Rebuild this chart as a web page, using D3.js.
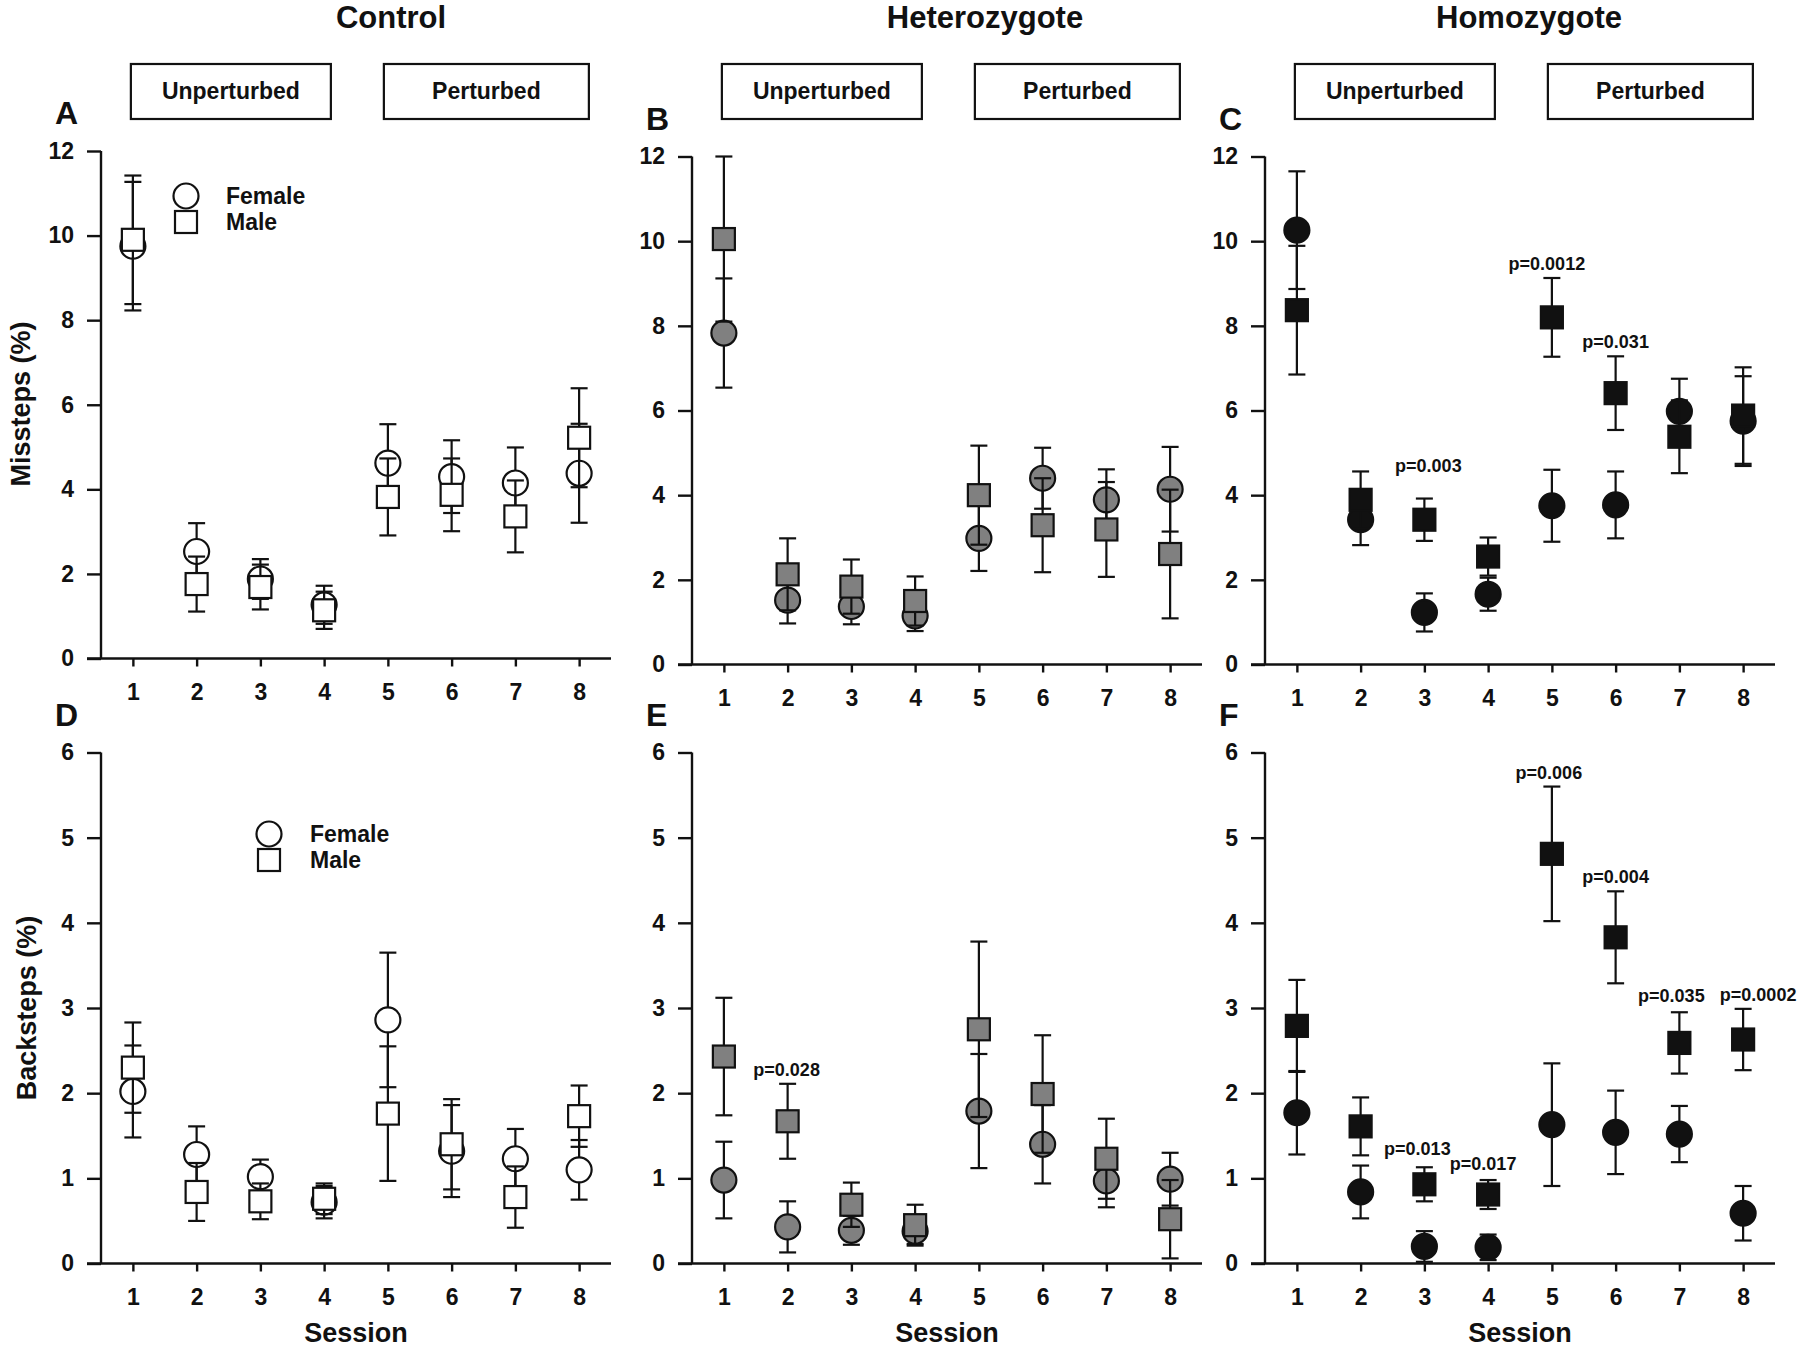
<!DOCTYPE html>
<html>
<head>
<meta charset="utf-8">
<script src="https://cdn.jsdelivr.net/npm/d3@7"></script>
<style>
  html, body { margin: 0; padding: 0; background: #fff; }
  svg { display: block; }
  text { font-family: "Liberation Sans", Arial, sans-serif; font-weight: bold; fill: #111; }
</style>
</head>
<body>
<svg id="chart" width="1800" height="1349"></svg>
<script>
// ---------------- DATA ----------------
const sessions = [1, 2, 3, 4, 5, 6, 7, 8];
const missTicks = [0, 2, 4, 6, 8, 10, 12];
const backTicks = [0, 1, 2, 3, 4, 5, 6];
const groupTitles = ["Control", "Heterozygote", "Homozygote"];
const phaseLabels = ["Unperturbed", "Perturbed"];
const legendLabels = ["Female", "Male"];

// Missteps (%) mean and SEM
const ctrlMissFemale    = [9.75, 2.53, 1.88, 1.27, 4.62, 4.30, 4.15, 4.38];
const ctrlMissFemaleErr = [1.52, 0.67, 0.47, 0.45, 0.92, 0.86, 0.84, 1.17];
const ctrlMissMale      = [9.90, 1.76, 1.69, 1.14, 3.82, 3.87, 3.36, 5.22];
const ctrlMissMaleErr   = [1.52, 0.65, 0.53, 0.44, 0.91, 0.86, 0.85, 1.17];

const hetMissFemale     = [7.83, 1.52, 1.37, 1.15, 2.98, 4.40, 3.89, 4.14];
const hetMissFemaleErr  = [1.29, 0.55, 0.42, 0.36, 0.77, 0.72, 0.72, 1.00];
const hetMissMale       = [10.05, 2.13, 1.84, 1.50, 4.00, 3.29, 3.19, 2.61];
const hetMissMaleErr    = [1.95, 0.85, 0.64, 0.58, 1.17, 1.11, 1.12, 1.52];

const homMissFemale     = [10.26, 3.42, 1.23, 1.66, 3.75, 3.77, 5.98, 5.75];
const homMissFemaleErr  = [1.39, 0.60, 0.45, 0.39, 0.85, 0.79, 0.77, 1.06];
const homMissMale       = [8.37, 3.89, 3.42, 2.55, 8.20, 6.41, 5.38, 5.88];
const homMissMaleErr    = [1.52, 0.67, 0.50, 0.45, 0.93, 0.87, 0.86, 1.14];

// Backsteps (%) mean and SEM
const ctrlBackFemale    = [2.02, 1.28, 1.02, 0.72, 2.86, 1.32, 1.23, 1.10];
const ctrlBackFemaleErr = [0.54, 0.33, 0.20, 0.19, 0.79, 0.54, 0.35, 0.35];
const ctrlBackMale      = [2.30, 0.84, 0.73, 0.76, 1.76, 1.40, 0.78, 1.73];
const ctrlBackMaleErr   = [0.53, 0.34, 0.21, 0.18, 0.79, 0.53, 0.36, 0.36];

const hetBackFemale     = [0.98, 0.43, 0.39, 0.38, 1.79, 1.40, 0.97, 0.99];
const hetBackFemaleErr  = [0.45, 0.30, 0.17, 0.15, 0.67, 0.46, 0.31, 0.31];
const hetBackMale       = [2.43, 1.67, 0.69, 0.45, 2.75, 1.99, 1.23, 0.52];
const hetBackMaleErr    = [0.69, 0.44, 0.26, 0.24, 1.03, 0.69, 0.47, 0.46];

const homBackFemale     = [1.77, 0.84, 0.20, 0.19, 1.63, 1.54, 1.52, 0.59];
const homBackFemaleErr  = [0.49, 0.31, 0.18, 0.15, 0.72, 0.49, 0.33, 0.32];
const homBackMale       = [2.79, 1.61, 0.93, 0.81, 4.81, 3.83, 2.59, 2.63];
const homBackMaleErr    = [0.54, 0.34, 0.20, 0.17, 0.79, 0.54, 0.36, 0.36];

// p-value annotations (placed above the male upper error bar)
const pPanels   = ["C", "C", "C", "E", "F", "F", "F", "F", "F", "F"];
const pSessions = [3, 5, 6, 2, 3, 4, 5, 6, 7, 8];
const pTexts    = ["p=0.003", "p=0.0012", "p=0.031", "p=0.028", "p=0.013", "p=0.017",
                   "p=0.006", "p=0.004", "p=0.035", "p=0.0002"];

// ---------------- LAYOUT ----------------
const colAxisX = [101, 692, 1265];
const plotW = 510;
const titleX = [391, 985, 1529];
const grayFill = "#808080";
const fills = ["#ffffff", grayFill, "#111111"];

const panels = [
  {id:"A", col:0, row:0, yTop:151,   y0:658.5,  ticks:missTicks, max:12,
   f:ctrlMissFemale, fe:ctrlMissFemaleErr, m:ctrlMissMale, me:ctrlMissMaleErr},
  {id:"B", col:1, row:0, yTop:156.5, y0:664.5,  ticks:missTicks, max:12,
   f:hetMissFemale, fe:hetMissFemaleErr, m:hetMissMale, me:hetMissMaleErr},
  {id:"C", col:2, row:0, yTop:156.5, y0:664.5,  ticks:missTicks, max:12,
   f:homMissFemale, fe:homMissFemaleErr, m:homMissMale, me:homMissMaleErr},
  {id:"D", col:0, row:1, yTop:752.5, y0:1263.5, ticks:backTicks, max:6,
   f:ctrlBackFemale, fe:ctrlBackFemaleErr, m:ctrlBackMale, me:ctrlBackMaleErr},
  {id:"E", col:1, row:1, yTop:752.5, y0:1263.5, ticks:backTicks, max:6,
   f:hetBackFemale, fe:hetBackFemaleErr, m:hetBackMale, me:hetBackMaleErr},
  {id:"F", col:2, row:1, yTop:752.5, y0:1263.5, ticks:backTicks, max:6,
   f:homBackFemale, fe:homBackFemaleErr, m:homBackMale, me:homBackMaleErr}
];
// per-label nudges (px) for p annotations
const pNudgeX = [4, -5, 0, -1, -7, -5, -3, 0, -8, 15];
const pNudgeY = [-19, 0, 0, 0, -4, -2, 0, 0, -2, 0];

const svg = d3.select("#chart");
const tickLen = 14, xTickLen = 8, capHalf = 8.5, circR = 12.5, sq = 22;

panels.forEach((p) => {
  const ax = colAxisX[p.col];
  const x = d3.scaleLinear().domain([0.5, 8.5]).range([ax, ax + plotW]);
  const y = d3.scaleLinear().domain([0, p.max]).range([p.y0, p.yTop]);
  p.x = x; p.y = y;
  const g = svg.append("g");

  // Y axis
  const yAxis = d3.axisLeft(y).tickValues(p.ticks).tickSize(tickLen).tickPadding(13).tickFormat(d3.format("d"));
  const ya = g.append("g").attr("transform", `translate(${ax},0)`).call(yAxis);
  ya.select(".domain").attr("d", `M0,${p.yTop}V${p.y0}`);
  // X axis
  const xAxis = d3.axisBottom(x).tickValues(sessions).tickSize(xTickLen).tickPadding(17).tickFormat(d3.format("d"));
  const xa = g.append("g").attr("transform", `translate(0,${p.y0})`).call(xAxis);
  xa.select(".domain").attr("d", `M${ax - tickLen},0H${ax + plotW}`);
  [ya, xa].forEach(a => {
    a.selectAll("path,line").attr("stroke", "#111").attr("stroke-width", 2.4);
    a.selectAll("text").style("font-size", "23px").attr("fill", "#111");
  });
  xa.selectAll("text").attr("dy", "0.71em");

  // Series: female (circle) then male (square)
  const series = [
    {vals:p.f, errs:p.fe, shape:"circle"},
    {vals:p.m, errs:p.me, shape:"square"}
  ];
  series.forEach(s => {
    const sg = g.append("g");
    const pts = sessions.map((ss, i) => ({s: ss, v: s.vals[i], e: s.errs[i]}));
    // error bars
    const eb = sg.selectAll("g.eb").data(pts).enter().append("g").attr("class", "eb");
    eb.append("line").attr("x1", d => x(d.s)).attr("x2", d => x(d.s))
      .attr("y1", d => y(d.v - d.e)).attr("y2", d => y(d.v + d.e));
    eb.append("line").attr("x1", d => x(d.s) - capHalf).attr("x2", d => x(d.s) + capHalf)
      .attr("y1", d => y(d.v + d.e)).attr("y2", d => y(d.v + d.e));
    eb.append("line").attr("x1", d => x(d.s) - capHalf).attr("x2", d => x(d.s) + capHalf)
      .attr("y1", d => y(d.v - d.e)).attr("y2", d => y(d.v - d.e));
    eb.selectAll("line").attr("stroke", "#111").attr("stroke-width", 2.2);
    // markers
    let mk;
    if (s.shape === "circle") {
      mk = sg.selectAll("circle").data(pts).enter().append("circle")
        .attr("cx", d => x(d.s)).attr("cy", d => y(d.v)).attr("r", circR);
    } else {
      mk = sg.selectAll("rect").data(pts).enter().append("rect")
        .attr("x", d => x(d.s) - sq / 2).attr("y", d => y(d.v) - sq / 2)
        .attr("width", sq).attr("height", sq);
    }
    mk.attr("fill", fills[p.col]).attr("stroke", "#111").attr("stroke-width", 2.2);
  });

  // Panel letter
  g.append("text").attr("x", ax - 46).attr("y", p.yTop - 27).style("font-size", "32px").text(p.id);

  if (p.row === 0) {
    // group title
    svg.append("text").attr("x", titleX[p.col]).attr("y", 28).attr("text-anchor", "middle")
      .style("font-size", "31px").text(groupTitles[p.col]);
    // phase boxes
    const s1 = x(1);
    const boxes = [[s1 - 2, s1 + 198], [s1 + 251, s1 + 456]];
    boxes.forEach((b, i) => {
      svg.append("rect").attr("x", b[0]).attr("y", 64).attr("width", b[1] - b[0]).attr("height", 55)
        .attr("fill", "none").attr("stroke", "#111").attr("stroke-width", 2.2);
      svg.append("text").attr("x", (b[0] + b[1]) / 2).attr("y", 99).attr("text-anchor", "middle")
        .style("font-size", "23px").text(phaseLabels[i]);
    });
  } else {
    svg.append("text").attr("x", ax + plotW / 2).attr("y", 1342).attr("text-anchor", "middle")
      .style("font-size", "27px").text("Session");
  }
});

// Y axis titles
svg.append("text").attr("transform", `translate(21,404) rotate(-90)`).attr("text-anchor", "middle")
  .attr("dominant-baseline", "central").style("font-size", "27px").text("Missteps (%)");
svg.append("text").attr("transform", `translate(27,1008) rotate(-90)`).attr("text-anchor", "middle")
  .attr("dominant-baseline", "central").style("font-size", "27px").text("Backsteps (%)");

// Legends
function legend(cx, cy, tx) {
  svg.append("circle").attr("cx", cx).attr("cy", cy).attr("r", circR).attr("fill", "#fff")
    .attr("stroke", "#111").attr("stroke-width", 2.2);
  svg.append("rect").attr("x", cx - sq / 2).attr("y", cy + 26 - sq / 2).attr("width", sq).attr("height", sq)
    .attr("fill", "#fff").attr("stroke", "#111").attr("stroke-width", 2.2);
  svg.append("text").attr("x", tx).attr("y", cy + 8).style("font-size", "23px").text(legendLabels[0]);
  svg.append("text").attr("x", tx).attr("y", cy + 26 + 8).style("font-size", "23px").text(legendLabels[1]);
}
legend(186, 196, 226);
legend(269, 834, 310);

// p-value labels
pPanels.forEach((pid, i) => {
  const p = panels.find(q => q.id === pid);
  const idx = pSessions[i] - 1;
  const top = p.m[idx] + p.me[idx];
  svg.append("text").attr("x", p.x(pSessions[i]) + pNudgeX[i]).attr("y", p.y(top) - 8 + pNudgeY[i])
    .attr("text-anchor", "middle").style("font-size", "18px").text(pTexts[i]);
});
</script>
</body>
</html>
